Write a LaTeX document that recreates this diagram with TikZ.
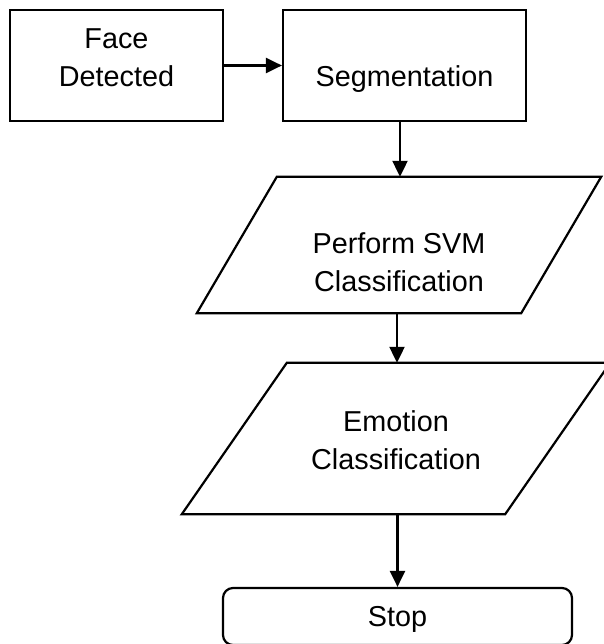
\documentclass[tikz,border=0pt]{standalone}
\usepackage{fontspec}
\setmainfont{Liberation Sans}
\usetikzlibrary{arrows.meta}
\tikzset{
  box/.style={draw, line width=2.2pt, rectangle, inner sep=0pt},
  slant/.style={rectangle, inner sep=0pt},
  edge/.style={line width=2.2pt, line join=miter},
  arr/.style={line width=2.2pt, -{Triangle[length=16pt,width=15pt]}},
  every label/.style={align=center, font=\fontsize{28.8}{37.7}\selectfont}
}
\begin{document}
\begin{tikzpicture}[x=1pt,y=-1pt]
  \useasboundingbox (0,0) rectangle (603,644);
  \node[box, minimum width=213pt, minimum height=111pt,
    label={[yshift=8pt]center:{Face\\Detected}}] (Face) at (116.5,65.5) {};
  \node[box, minimum width=243pt, minimum height=111pt,
    label={[yshift=-14pt]center:Segmentation}] (Seg) at (404.5,65.5) {};
  \node[slant, minimum width=324pt, minimum height=136pt,
    label={[yshift=-17.5pt]center:{Perform SVM\\Classification}}] (Svm) at (399,245) {};
  \node[slant, minimum width=323pt, minimum height=151pt,
    label={[yshift=-2pt]center:{Emotion\\Classification}}] (Emo) at (396,438.5) {};
  \node[box, rounded corners=10pt, minimum width=349pt, minimum height=57pt,
    label={[yshift=-3pt]center:Stop}] (Stop) at (397.5,616.5) {};
  % parallelograms
  \draw[edge] ([xshift=-40pt]Svm.south west) -- ([xshift=40pt]Svm.north west)
    -- ([xshift=40pt]Svm.north east) -- ([xshift=-40pt]Svm.south east) -- cycle;
  \draw[edge] ([xshift=-52.5pt]Emo.south west) -- ([xshift=52.5pt]Emo.north west)
    -- ([xshift=52.5pt]Emo.north east) -- ([xshift=-52.5pt]Emo.south east) -- cycle;
  % links
  \draw[arr] (Face.east) -- (Seg.west);
  \draw[arr] ([xshift=-4.5pt]Seg.south) -- ([xshift=-4.5pt]Seg.south |- Svm.north);
  \draw[arr] ([xshift=-2pt]Svm.south) -- ([xshift=-2pt]Svm.south |- Emo.north);
  \draw[arr] (Stop.north |- Emo.south) -- (Stop.north);
\end{tikzpicture}
\end{document}
